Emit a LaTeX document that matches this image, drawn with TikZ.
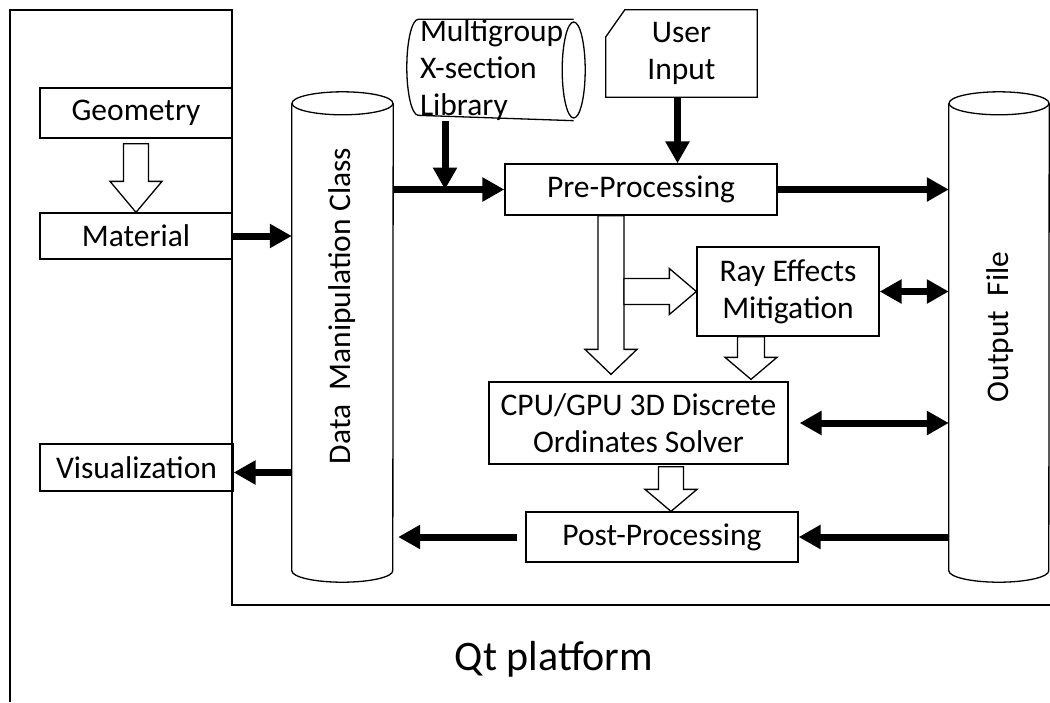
\documentclass[tikz,border=0pt]{standalone}
\usepackage{fontspec}
\setmainfont{Carlito}
\usetikzlibrary{arrows.meta, positioning, calc}

% open block arrows (start, tip, head length, half shaft width)
\newcommand{\hollowdown}[4]{%
  \draw[hollow] ($#1+(-#4,0)$) -- ($#2+(-#4,#3)$) -- ($#2+(-26,#3)$) -- #2
    -- ($#2+(26,#3)$) -- ($#2+(#4,#3)$) -- ($#1+(#4,0)$) -- cycle;}
\newcommand{\hollowright}[4]{%
  \draw[hollow] ($#1+(0,-#4)$) -- ($#2+(-#3,-#4)$) -- ($#2+(-#3,-23)$) -- #2
    -- ($#2+(-#3,23)$) -- ($#2+(-#3,#4)$) -- ($#1+(0,#4)$) -- cycle;}
% drum outlines round a node (node, half width or half height)
\newcommand{\drumup}[2]{%
  \draw[outline] ($(#1.north west)+(0,-11.5)$) -- ($(#1.south west)+(0,11.5)$)
    arc[start angle=180, end angle=360, x radius=#2, y radius=11.5] -- ($(#1.north east)+(0,-11.5)$);
  \draw[outline] ($(#1.north)+(0,-11.5)$) ellipse[x radius=#2, y radius=11.5];}
\newcommand{\drumside}[2]{%
  \draw[outline] ($(#1.north east)+(-11.5,0)$) -- ($(#1.north west)+(11.5,0)$)
    arc[start angle=90, end angle=270, x radius=11.5, y radius=#2] -- ($(#1.south east)+(-11.5,0)$);
  \draw[outline] ($(#1.east)+(-11.5,0)$) ellipse[x radius=11.5, y radius=#2];}

\begin{document}
\begin{tikzpicture}[x=1pt, y=1pt, font=\fontsize{31.5}{37}\selectfont]
    \tikzstyle{outline} = [draw=black, line width=1.3pt]
    \tikzstyle{block} = [rectangle, outline, inner sep=0pt, align=center]
    \tikzstyle{store} = [rectangle, inner sep=0pt]
    \tikzstyle{arrow} = [line width=7pt, -{Triangle[length=22pt,width=23pt]}]
    \tikzstyle{twoway} = [line width=7pt, {Triangle[length=22pt,width=23pt]}-{Triangle[length=22pt,width=23pt]}]
    \tikzstyle{hollow} = [outline, fill=white, line join=miter]

    \useasboundingbox (0,0) rectangle (1050,-702);

    % platform frame
    \draw[outline] (10,-702) -- (10,-10) -- (232,-10) -- (232,-605) -- (1050,-605);

    \node (geo) [block, minimum width=192pt, minimum height=50pt] at (136,-113) {Geometry};
    \node (mat) [block, minimum width=192pt, minimum height=46pt] at (136,-236) {Material};
    \node (vis) [block, minimum width=193pt, minimum height=47pt] at (136.5,-467.5) {Visualization};
    \node (dmc) [store, minimum width=101pt, minimum height=490pt] at (342.5,-337) {};
    \node (dmctext) [rotate=90] at (342,-306) {Data\ \ Manipulation Class};
    \node (lib) [store, align=left, text width=152pt, minimum width=178pt, minimum height=96pt] at (496,-70) {Multigroup\\X-section\\Library};
    \node (user) [store, align=center, minimum width=151pt, minimum height=87pt] at (681.5,-53.5) {User\\Input};
    \node (pre) [block, minimum width=272pt, minimum height=51pt] at (641,-189.5) {Pre-Processing};
    \node (out) [store, minimum width=100pt, minimum height=490pt] at (999,-337) {};
    \node (outtext) [rotate=90] at (1000,-327) {Output\ \ File};
    \node (ray) [block, minimum width=182pt, minimum height=89pt] at (788,-291.5) {Ray Effects\\Mitigation};
    \node (cpu) [block, minimum width=299pt, minimum height=82pt] at (638.5,-423) {CPU/GPU 3D Discrete\\Ordinates Solver};
    \node (post) [block, minimum width=272pt, minimum height=50pt] at (662,-537) {Post-Processing};
    \node (qt) [anchor=base, font=\fontsize{42}{50}\selectfont] at (554,-670) {Qt platform};

    \drumup{dmc}{50.5}
    \drumup{out}{50}
    \drumside{lib}{48}
    \draw[outline] (user.north east) -- (user.south east) -- (user.south west)
        -- ($(user.north west)+(0,-27)$) -- ($(user.north west)+(19,0)$) -- cycle;

    % points for the arrows
    \coordinate (join) at (445,-189.5);
    \coordinate (visin) at ([yshift=-5pt]vis.east);
    \coordinate (geoout) at ([yshift=-5pt]geo.south);
    \coordinate (split) at ($(pre.south)+(-30,0)$);
    \coordinate (splitend) at ($(split |- cpu.north)+(0,7)$);
    \coordinate (branch) at ($(split |- ray.west)+(13,0)$);
    \coordinate (rayout) at ($(ray.south)+(-37,0)$);
    \coordinate (rayin) at ($(rayout |- cpu.north)+(0,2)$);
    \coordinate (solveout) at ($(post.north |- cpu.south)+(9,-2)$);
    \coordinate (solvein) at ($(post.north)+(9,0)$);

    \draw [arrow] (mat.east) -- (mat.east -| dmc.west);
    \draw [arrow] (visin -| dmc.west) -- (visin);
    \draw [arrow] (dmc.east |- pre.west) -- (pre.west);
    \draw [arrow] (join |- lib.south) -- (join);
    \draw [arrow] ([xshift=-4pt]user.south) -- ([xshift=-4pt]user.south |- pre.north);
    \draw [arrow] (pre.east) -- (pre.east -| out.west);
    \draw [twoway] (ray.east) -- (ray.east -| out.west);
    \draw [twoway] ([xshift=11pt]cpu.east) -- (cpu.east -| out.west);
    \draw [arrow] (post.east -| out.west) -- (post.east);
    \draw [arrow, shorten >=5pt] ([xshift=-8pt]post.west) -- (post.west -| dmc.east);

    \hollowdown{(geoout)}{(mat.north)}{31}{12.5}
    \hollowdown{(split)}{(splitend)}{25}{13}
    \hollowright{(branch)}{(ray.west)}{27}{13}
    \hollowdown{(rayout)}{(rayin)}{22}{13.5}
    \hollowdown{(solveout)}{(solvein)}{22}{12.5}
\end{tikzpicture}
\end{document}
